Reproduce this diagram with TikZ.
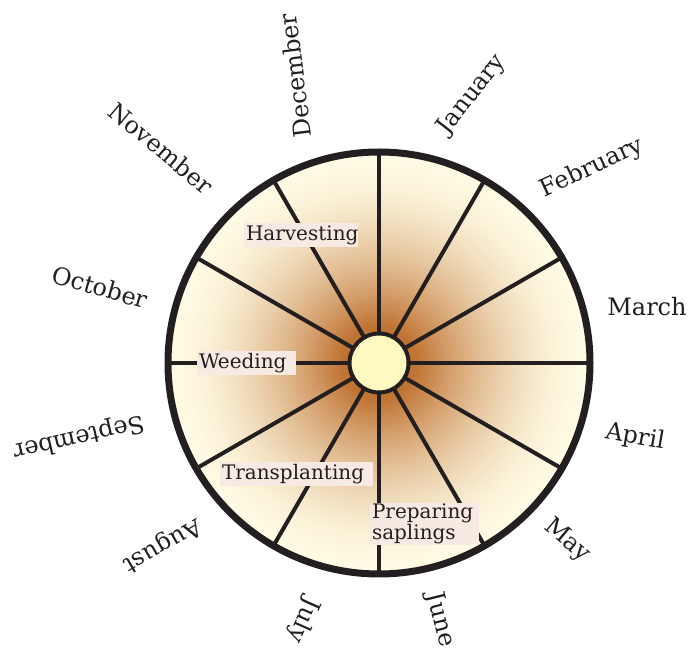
\documentclass[tikz,border=0pt]{standalone}
\usepackage{fontspec}
\setmainfont{DejaVu Serif}
\definecolor{ink}{RGB}{35,31,32}
\definecolor{boxc}{RGB}{246,234,226}
\definecolor{hubc}{RGB}{255,248,192}
\definecolor{darkb}{RGB}{192,116,52}
\definecolor{cream}{RGB}{255,251,228}
\tikzset{
  spoke/.style={draw=ink, line width=4pt},
  rim/.style={draw=ink, line width=7pt},
  act/.style={fill=boxc, text=ink, font=\fontsize{20}{21}\selectfont, inner xsep=2pt, inner ysep=0pt, minimum height=24pt},
  mon/.style={text=ink, font=\fontsize{24}{26}\selectfont, inner sep=0pt}
}
\begin{document}
\begin{tikzpicture}[x=1pt,y=1pt]
\useasboundingbox (0,0) rectangle (689,651);
\coordinate (C) at (379,288);
\foreach \i in {0,...,100}{
  \pgfmathsetmacro\ff{1-\i/100}
  \pgfmathsetmacro\rr{211*\ff}
  \pgfmathsetmacro\gg{max(0,min(1,(\ff-0.18)/0.82))}
  \pgfmathsetmacro\pp{100*(1-(1-\gg)^1.7)}
  \fill[cream!\pp!darkb] (C) circle (\rr);
}
\foreach \a in {0,30,...,330}{
  \coordinate (r\a) at ([shift={(\a:211)}]C);
  \draw[spoke] (C) -- (r\a);
}
\draw[rim] (C) circle (211);
\node[circle, draw=ink, line width=4pt, fill=hubc, minimum size=59pt, inner sep=0pt] (hub) at (C) {};
% activities
\node[act, text width=110pt, align=center] (harv) at (301,416) {Harvesting};
\node[act, text width=95pt, align=left] (weed) at (246.5,288) {Weeding};
\node[act, text width=149pt, align=left] (trans) at (296.5,177) {Transplanting};
\node[act, text width=105pt, align=left, minimum height=42pt] (prep) at (424.5,127) {Preparing\\saplings};
% months
\node[mon, rotate=52] (jan) at (472,556) {January};
\node[mon, rotate=25] (feb) at (592,483) {February};
\node[mon, rotate=0] (mar) at (647,344) {March};
\node[mon, rotate=-10] (apr) at (635,214) {April};
\node[mon, rotate=-40] (may) at (567,110) {May};
\node[mon, rotate=-76] (jun) at (440,31) {June};
\node[mon, rotate=246] (jul) at (303,31) {July};
\node[mon, rotate=210] (aug) at (162,106) {August};
\node[mon, rotate=193] (sep) at (79,214) {September};
\node[mon, rotate=-16] (oct) at (100,364) {October};
\node[mon, rotate=-40] (nov) at (161,503) {November};
\node[mon, rotate=97] (dec) at (295,575) {December};
\end{tikzpicture}
\end{document}
